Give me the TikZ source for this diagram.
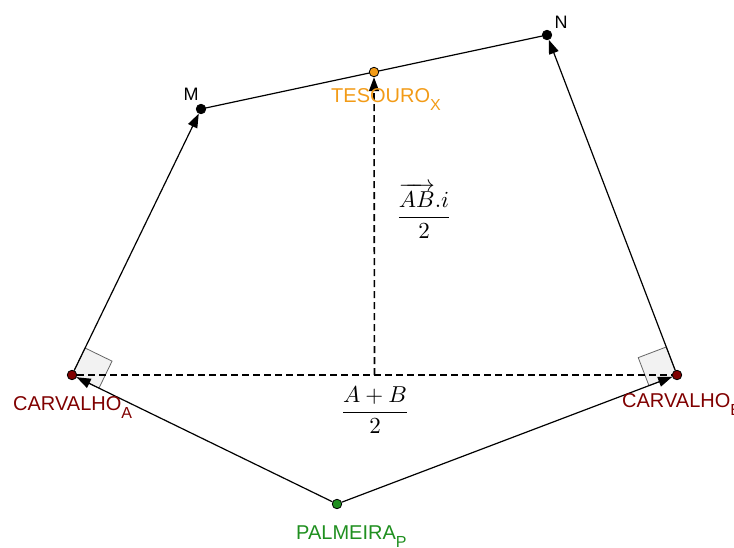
\documentclass[tikz,border=0pt]{standalone}
\usepackage{amsmath}
\usepackage{fontspec}
\setmainfont{Liberation Sans}
\usetikzlibrary{arrows.meta, positioning, calc, backgrounds}
\definecolor{carvRed}{HTML}{800000}
\definecolor{palmGreen}{HTML}{1F8F1F}
\definecolor{tesOrange}{HTML}{F29B17}
\definecolor{angGray}{HTML}{F2F2F2}
\tikzset{
  vetor/.style={-{Triangle[length=14pt, width=10pt]}, black, line width=1.2pt},
  segm/.style={black, line width=1.2pt},
  traco/.style={black, line width=1.6pt, dash pattern=on 7pt off 4pt},
  ponto/.style={circle, draw=black, line width=0.8pt, inner sep=0pt, minimum size=9.5pt},
  rotulo/.style={font=\fontsize{20}{22}\selectfont, inner sep=0pt, anchor=base west},
  letra/.style={font=\fontsize{18}{20}\selectfont, inner sep=0pt, anchor=base},
  fracao/.style={scale=2.3, inner sep=0pt},
  retoAng/.style={draw=black!60, fill=angGray, line width=0.8pt},
}
\newcommand{\indice}[1]{\raisebox{-8pt}{\fontsize{16}{16}\selectfont #1}}

\begin{document}
\begin{tikzpicture}[x=1pt, y=-1pt]
    \useasboundingbox (0,0) rectangle (734,547);
    % pontos
    \node[ponto, fill=carvRed] (A) at (72,375) {};
    \node[ponto, fill=carvRed] (B) at (677,375) {};
    \node[ponto, fill=palmGreen] (P) at (337,504) {};
    \node[ponto, fill=black] (M) at (201,109) {};
    \node[ponto, fill=black] (N) at (547,35) {};
    \node[ponto, fill=tesOrange] (X) at ($(M)!0.5!(N)$) {};
    \coordinate (Q) at ($(A)!0.5!(B)$);
    % angulos retos
    \coordinate (uA) at ($(A.center)!30pt!(M.center)$);
    \coordinate (vA) at ($(A.center)!30pt!(P.center)$);
    \coordinate (uB) at ($(B.center)!30pt!(N.center)$);
    \coordinate (vB) at ($(B.center)!30pt!(P.center)$);
    \begin{scope}[on background layer]
      \draw[retoAng] (A.center) -- (uA) -- ($(uA)+(vA)-(A.center)$) -- (vA) -- cycle;
      \draw[retoAng] (B.center) -- (uB) -- ($(uB)+(vB)-(B.center)$) -- (vB) -- cycle;
      % vetores e segmentos
      \draw[vetor] (P) -- (A);
      \draw[vetor] (P) -- (B);
      \draw[vetor] (A) -- (M);
      \draw[vetor] (B) -- (N);
      \draw[segm] (M.center) -- (N);
      \draw[traco] (A) -- (B);
      \draw[traco, -{Triangle[length=14pt, width=10pt]}] (Q) -- (X);
    \end{scope}
    % rotulos
    \node[rotulo, text=carvRed] (lA) at (13,410) {CARVALHO\indice{A}};
    \node[rotulo, text=carvRed] (lB) at (622,407) {CARVALHO\indice{B}};
    \node[rotulo, text=palmGreen] (lP) at (296,539) {PALMEIRA\indice{P}};
    \node[rotulo, text=tesOrange] (lX) at (331,102) {TESOURO\indice{X}};
    \node[letra] (lM) at (191,100) {M};
    \node[letra] (lN) at (561,28) {N};
    % fracoes
    \node[fracao] (fAB) at (424,211) {$\dfrac{\overrightarrow{AB}.i}{2}$};
    \node[fracao] (fMed) at (375,410) {$\dfrac{A+B}{2}$};
  \end{tikzpicture}
\end{document}
